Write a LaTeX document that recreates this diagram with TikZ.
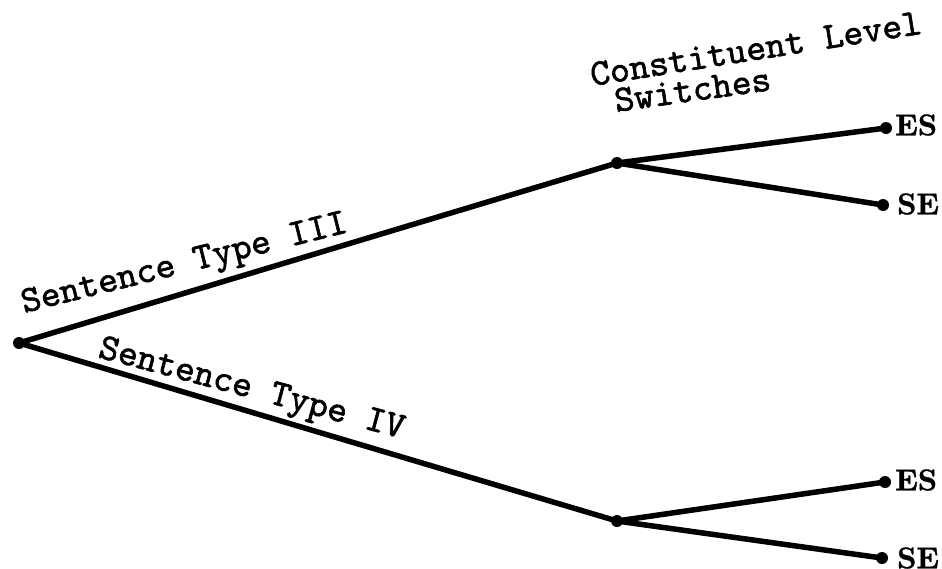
\documentclass[tikz,border=0pt]{standalone}
\usepackage{fontspec}
\newfontfamily\typefont{lmmono10-regular}[Extension=.otf,FakeBold=1.6]
\newfontfamily\leaffont{lmroman10-bold}[Extension=.otf,FakeBold=1]
\begin{document}
\begin{tikzpicture}[x=1pt,y=-1pt,
  dot/.style={circle,fill=black,inner sep=0pt,minimum size=12pt},
  branch/.style={line width=5.5pt,line cap=round},
  typed/.style={font=\typefont\fontsize{37.5}{42}\selectfont,inner sep=0pt},
  leaf/.style={font=\leaffont\fontsize{30}{34}\selectfont,inner sep=0pt,anchor=west}]
\useasboundingbox (0,0) rectangle (942,568);
% tree points
\node[dot] (root) at (19,343) {};
\node[dot] (up) at (617,163) {};
\node[dot] (lo) at (617,521) {};
\node[dot] (upES) at (886,128) {};
\node[dot] (upSE) at (883,205) {};
\node[dot] (loES) at (885,482) {};
\node[dot] (loSE) at (882,558) {};
% branches
\draw[branch] (root.center) -- (up.center);
\draw[branch] (root.center) -- (lo.center);
\draw[branch] (up.center) -- (upES.center);
\draw[branch] (up.center) -- (upSE.center);
\draw[branch] (lo.center) -- (loES.center);
\draw[branch] (lo.center) -- (loSE.center);
% leaf labels
\node[leaf] (lES1) at (895,125) {ES};
\node[leaf] (lSE1) at (897,204) {SE};
\node[leaf] (lES2) at (895,480) {ES};
\node[leaf] (lSE2) at (897,558) {SE};
% branch labels
\node[typed,anchor=base west,rotate=14] (t3) at (24,313) {Sentence Type III};
\node[typed,anchor=base west,rotate=-15] (t4) at (97,357) {Sentence Type IV};
\node[typed,anchor=base west,rotate=9] (c1) at (592,86) {Constituent Level};
\node[typed,anchor=base west,rotate=8] (c2) at (616,112) {Switches};
\end{tikzpicture}
\end{document}
